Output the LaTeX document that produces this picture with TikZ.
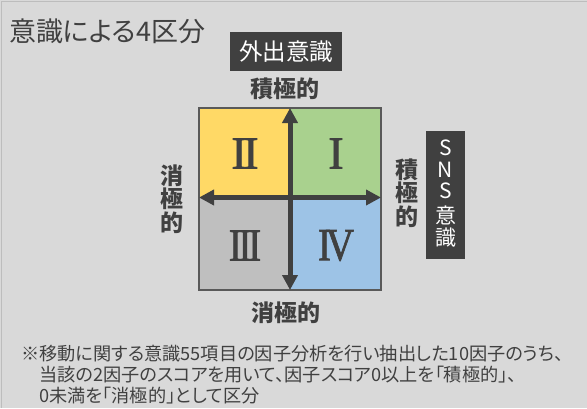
\documentclass[tikz,border=0pt]{standalone}
\usepackage{fontspec}
\setmainfont{Noto Sans CJK JP}
\newfontfamily\jpprop{Noto Sans CJK JP}[RawFeature=+palt]
\newfontfamily\romfont{Liberation Serif}[FakeBold=1.6]
\usetikzlibrary{arrows.meta}
\definecolor{bgc}{HTML}{D9D9D9}
\definecolor{edgec}{HTML}{BDBDBD}
\definecolor{txt}{HTML}{404040}
\definecolor{darkbox}{HTML}{404040}
\definecolor{qyellow}{HTML}{FFD966}
\definecolor{qgreen}{HTML}{A9D18E}
\definecolor{qgray}{HTML}{BFBFBF}
\definecolor{qblue}{HTML}{9DC3E6}
\definecolor{sqedge}{HTML}{595959}
\tikzset{
  lbl/.style={text=txt, font=\fontsize{23}{23}\selectfont\bfseries, inner sep=0pt},
  vlbl/.style={text=txt, font=\fontsize{23}{23.5}\selectfont\bfseries, inner sep=0pt, align=center},
  darklabel/.style={fill=darkbox, text=white, inner sep=0pt},
  roman/.style={text=txt, font=\romfont\fontsize{46}{46}\selectfont, inner sep=0pt},
  snsletter/.style={text=white, inner sep=0pt, font=\fontsize{21}{21}\selectfont},
  axisarrow/.style={draw=txt, line width=5pt, {Triangle[length=15pt,width=15pt]}-{Triangle[length=15pt,width=15pt]}}
}
\begin{document}
\begin{tikzpicture}[x=1pt,y=-1pt]
\useasboundingbox (0,0) rectangle (587,408);
\fill[bgc] (0,0) rectangle (587,408);
\draw[edgec, line width=1pt] (1.5,408) -- (1.5,1.5) -- (587,1.5);

% title
\node[anchor=west, text=txt, inner sep=0pt, font=\jpprop\fontsize{27}{27}\selectfont] (title) at (9,31) {意識による4区分};

% top label box
\node[darklabel, minimum width=112pt, minimum height=39pt, font=\fontsize{23.5}{23.5}\selectfont] (outbox) at (286,51.5) {外出意識};
\node[lbl] (toplbl) at (285,89) {積極的};

% quadrants
\coordinate (tl) at (199,108);
\coordinate (tr) at (381,108);
\coordinate (bl) at (199,290);
\coordinate (br) at (381,290);
\coordinate (c) at (290,197.5);
\coordinate (tm) at (290,108);
\coordinate (bm) at (290,290);
\coordinate (lm) at (199,197.5);
\coordinate (rm) at (381,197.5);
\fill[qyellow] (tl) rectangle (c);
\fill[qgreen] (tm) rectangle (rm);
\fill[qgray] (lm) rectangle (bm);
\fill[qblue] (c) rectangle (br);
\draw[sqedge, line width=1.3pt] (tl) rectangle (br);

% axes
\draw[axisarrow] (bm) -- (tm);
\draw[axisarrow] (lm) -- (rm);

% numerals
\node[roman] (q2) at (245,153.5) {I\kern-3.5pt I};
\node[roman] (q1) at (336,153.5) {I};
\node[roman, xscale=0.85] (q3) at (245,245.5) {I\kern-4pt I\kern-4pt I};
\node[roman, xscale=0.85] (q4) at (336,245.5) {I\kern-6pt V};

% side labels
\node[vlbl] (leftlbl) at (172,199) {消\\極\\的};
\node[vlbl] (rightlbl) at (407,193) {積\\極\\的};
\node[lbl] (botlbl) at (286,313) {消極的};

% SNS box
\node[darklabel, minimum width=39pt, minimum height=128pt] (snsbox) at (445.5,195) {};
\node[snsletter] (sns1) at (445.5,148) {S};
\node[snsletter] (sns2) at (445.5,169.5) {N};
\node[snsletter] (sns3) at (445.5,191) {S};
\node[snsletter] (sns4) at (445.5,215) {意};
\node[snsletter] (sns5) at (445.5,238) {識};

% footnote
\node[anchor=north west, text=txt, inner sep=0pt, align=left, font=\jpprop\fontsize{18.2}{21}\selectfont] (note) at (21,344.5) {※移動に関する意識55項目の因子分析を行い抽出した10因子のうち、\\\hspace*{1em}当該の2因子のスコアを用いて、因子スコア0以上を「積極的」、\\\hspace*{1em}0未満を「消極的」として区分};
\end{tikzpicture}
\end{document}
